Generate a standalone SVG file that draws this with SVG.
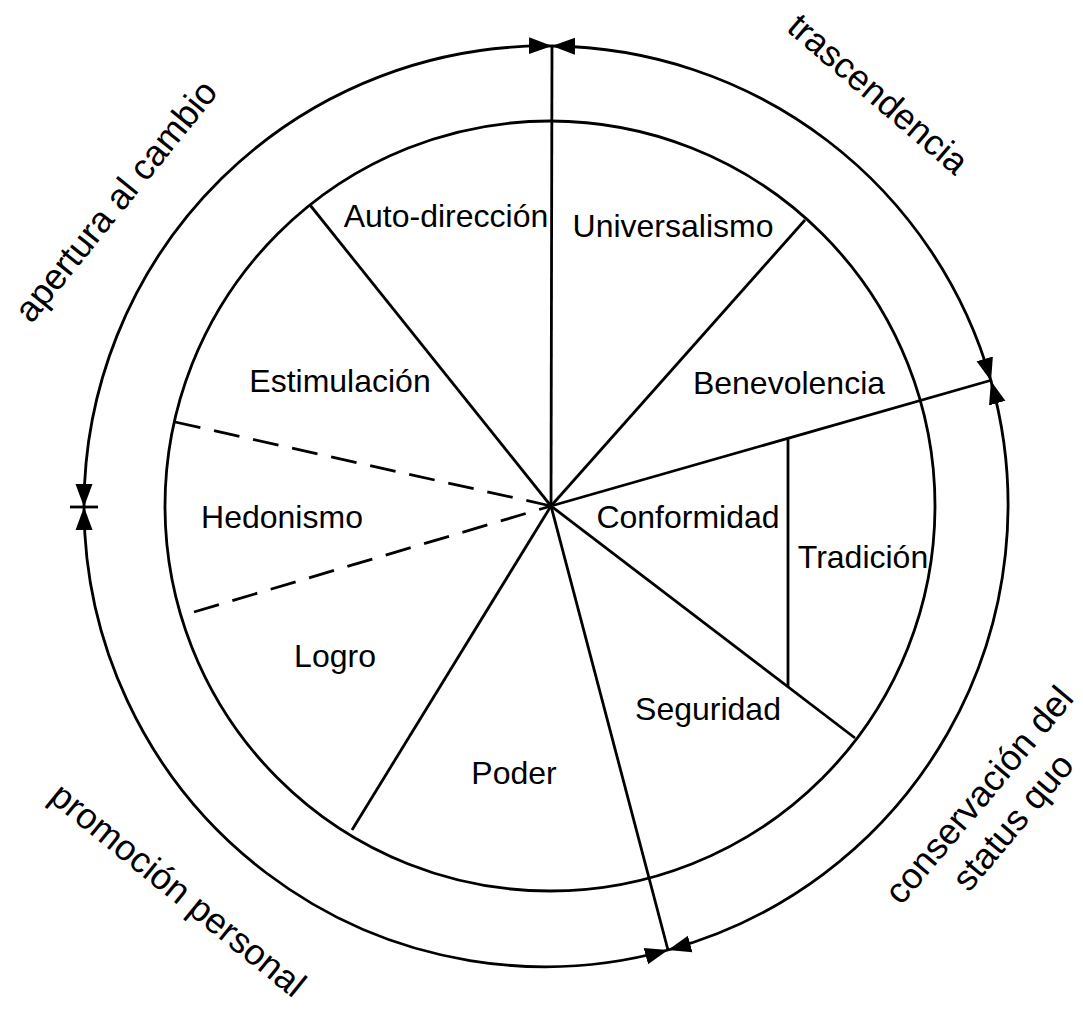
<svg xmlns="http://www.w3.org/2000/svg" width="1083" height="1012" viewBox="0 0 1083 1012">
<style>
.ln{stroke:#000;stroke-width:2.8;fill:none;stroke-linecap:butt}
.dash{stroke:#000;stroke-width:2.8;fill:none;stroke-dasharray:26 14}
.arc{stroke:#000;stroke-width:2.8;fill:none;marker-start:url(#ah);marker-end:url(#ah)}
.lbl{font-family:"Liberation Sans",Arial,sans-serif;font-size:32px;fill:#000;text-anchor:middle}
.big{font-family:"Liberation Sans",Arial,sans-serif;font-size:36px;fill:#000;text-anchor:middle}
</style>
<defs>
<marker id="ah" markerUnits="userSpaceOnUse" markerWidth="24" markerHeight="18" refX="23" refY="8.5" orient="auto-start-reverse" viewBox="0 0 24 17">
<path d="M0,0 L23,8.5 L0,17 Z" fill="#000"/>
</marker>
</defs>
<rect width="1083" height="1012" fill="#fff"/>
<g id="ring">
<circle cx="550" cy="506" r="385" class="ln"/>
</g>
<g id="connectors">
<path class="arc" d="M84,507 A461,461 0 0 1 552,46"/>
<path class="arc" d="M552,46 A461,461 0 0 1 991,381"/>
<path class="arc" d="M991,381 A461,461 0 0 1 668,950"/>
<path class="arc" d="M668,950 A461,461 0 0 1 84,507"/>
<line class="ln" x1="70" y1="507" x2="98" y2="507"/>
<line class="ln" x1="552" y1="46" x2="551" y2="506"/>
<line class="ln" x1="551" y1="506" x2="992" y2="380"/>
<line class="ln" x1="551" y1="506" x2="668" y2="950"/>
<line class="ln" x1="551" y1="506" x2="310" y2="205"/>
<line class="ln" x1="551" y1="506" x2="805" y2="220"/>
<line class="ln" x1="551" y1="506" x2="855" y2="738"/>
<line class="ln" x1="551" y1="506" x2="352" y2="830"/>
<line class="ln" x1="788" y1="438" x2="788" y2="687"/>
<line class="dash" x1="175" y1="422" x2="551" y2="506"/>
<line class="dash" x1="194" y1="612" x2="551" y2="506"/>
</g>
<g id="sectors">
<text class="lbl" x="446" y="227">Auto-dirección</text>
<text class="lbl" x="673" y="237">Universalismo</text>
<text class="lbl" x="340" y="392">Estimulación</text>
<text class="lbl" x="789" y="394">Benevolencia</text>
<text class="lbl" x="282" y="528">Hedonismo</text>
<text class="lbl" x="688" y="528">Conformidad</text>
<text class="lbl" x="863" y="568">Tradición</text>
<text class="lbl" x="335" y="667">Logro</text>
<text class="lbl" x="708" y="720">Seguridad</text>
<text class="lbl" x="514" y="784">Poder</text>
</g>
<g id="groups">
<text class="big" transform="translate(116,201) rotate(-51)" y="12">apertura al cambio</text>
<text class="big" transform="translate(878,94) rotate(40.7)" y="12">trascendencia</text>
<text class="big" transform="translate(178,890) rotate(39)" y="12">promoción personal</text>
<text class="big" transform="translate(979,795) rotate(-50)" y="12">conservación del</text>
<text class="big" transform="translate(1013,822) rotate(-50)" y="12">status quo</text>
</g>
</svg>
